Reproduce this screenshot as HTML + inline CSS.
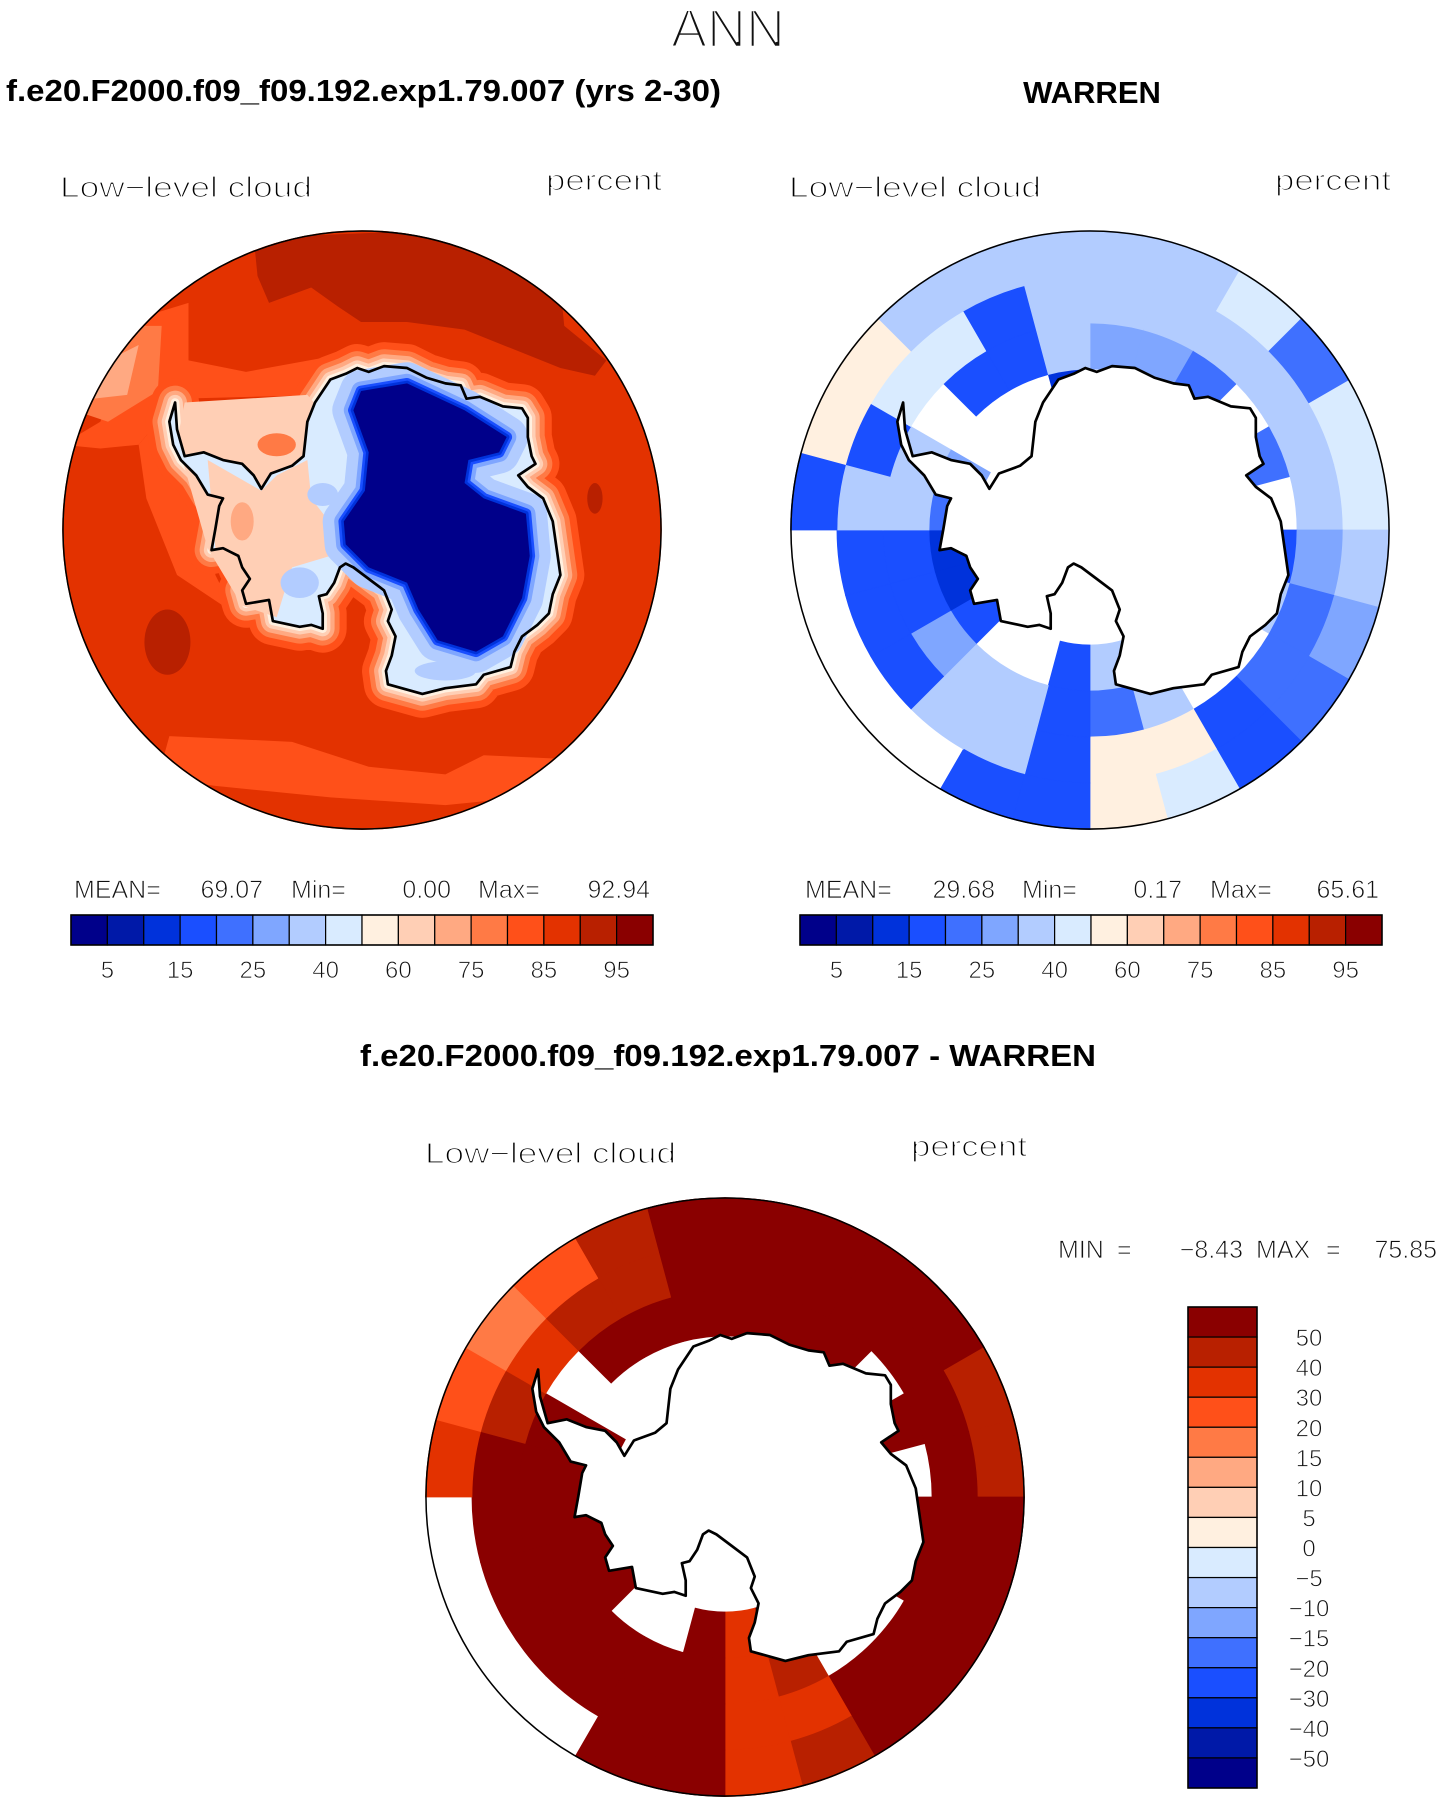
<!DOCTYPE html>
<html><head><meta charset="utf-8"><style>
html,body{margin:0;padding:0;background:#fff;}
svg{display:block;font-family:"Liberation Sans",sans-serif;}
.thin{stroke:#fff;stroke-width:1.3px;paint-order:normal;}
</style></head><body>
<svg id="root" width="1444" height="1799" viewBox="0 0 1444 1799" xmlns="http://www.w3.org/2000/svg">
<defs>
<clipPath id="disk"><circle cx="782.5" cy="782.5" r="782"/></clipPath>
</defs>
<text x="728" y="47" font-size="54" text-anchor="middle" fill="#111" class="thin" style="stroke-width:2.5px">ANN</text>
<text x="6" y="101" font-size="31" font-weight="bold" textLength="715" lengthAdjust="spacingAndGlyphs">f.e20.F2000.f09_f09.192.exp1.79.007 (yrs 2-30)</text>
<text x="1092" y="103" font-size="31" font-weight="bold" text-anchor="middle">WARREN</text>

<text x="60" y="197" font-size="29" class="thin" textLength="252" lengthAdjust="spacingAndGlyphs">Low−level cloud</text>
<text x="546" y="190" font-size="29" class="thin" textLength="116" lengthAdjust="spacingAndGlyphs">percent</text>
<text x="789" y="197" font-size="29" class="thin" textLength="252" lengthAdjust="spacingAndGlyphs">Low−level cloud</text>
<text x="1275" y="190" font-size="29" class="thin" textLength="116" lengthAdjust="spacingAndGlyphs">percent</text>

<g id="map1" transform="translate(62,230) scale(0.38339)">
 <g clip-path="url(#disk)">
  <rect x="0" y="0" width="1565" height="1565" fill="#e33200"/>
  <path d="M500,20 L510,120 L540,190 L650,150 L720,200 L780,240 L900,240 L1050,260 L1200,320 L1300,360 L1390,380 L1420,340 L1310,250 L1300,150 L1000,0 Z" fill="#b82000"/>
  <ellipse cx="275" cy="1075" rx="60" ry="85" fill="#b82000"/>
  <ellipse cx="1390" cy="700" rx="20" ry="40" fill="#b82000"/>
  <path d="M280,1320 L600,1335 L800,1400 L1000,1420 L1100,1370 L1320,1380 L1565,1385 L1565,1470 L1300,1470 L1000,1500 L700,1480 L400,1450 L250,1430 Z" fill="#ff5019"/>
  <path d="M0,560 L100,500 L200,230 L330,190 L330,340 L480,370 L700,330 L700,430 L300,440 L200,560 L100,570 Z" fill="#ff5019"/>
  <path d="M60,480 L150,300 L200,250 L260,250 L250,420 L120,500 Z" fill="#ff7a45"/>
  <path d="M80,440 L140,330 L200,300 L170,430 Z" fill="#ffa982"/>
  <path d="M200,560 L300,440 L380,560 L400,900 L450,1000 L300,900 L220,700 Z" fill="#ff5019"/>
 </g>
</g>
<g id="map2" transform="translate(790,230) scale(0.38339)"><g clip-path="url(#disk)" id="map2cells"></g></g>
<g id="map3" transform="translate(425,1197) scale(0.38339)"><g clip-path="url(#disk)" id="map3cells"></g></g>

<g font-size="25" fill="#111" class="thin" style="stroke-width:0.8px">
<text x="74" y="898">MEAN=</text><text x="263" y="898" text-anchor="end">69.07</text>
<text x="291" y="898">Min=</text><text x="451" y="898" text-anchor="end">0.00</text>
<text x="478" y="898">Max=</text><text x="650" y="898" text-anchor="end">92.94</text>
</g>
<g font-size="25" fill="#111" class="thin" style="stroke-width:0.8px">
<text x="805" y="898">MEAN=</text><text x="995" y="898" text-anchor="end">29.68</text>
<text x="1022" y="898">Min=</text><text x="1182" y="898" text-anchor="end">0.17</text>
<text x="1210" y="898">Max=</text><text x="1379" y="898" text-anchor="end">65.61</text>
</g>
<g id="cb1"></g>
<g id="cb2"></g>

<text x="728" y="1066" font-size="31" font-weight="bold" text-anchor="middle" textLength="736" lengthAdjust="spacingAndGlyphs">f.e20.F2000.f09_f09.192.exp1.79.007 - WARREN</text>
<text x="425" y="1163" font-size="29" class="thin" textLength="251" lengthAdjust="spacingAndGlyphs">Low−level cloud</text>
<text x="911" y="1156" font-size="29" class="thin" textLength="116" lengthAdjust="spacingAndGlyphs">percent</text>
<g font-size="25" fill="#111" class="thin" style="stroke-width:0.8px">
<text x="1058" y="1258">MIN</text><text x="1117" y="1258">=</text>
<text x="1243" y="1258" text-anchor="end">−8.43</text>
<text x="1256" y="1258">MAX</text><text x="1326" y="1258">=</text>
<text x="1437" y="1258" text-anchor="end">75.85</text>
</g>
<g id="cb3"></g>
</svg>
<script>
const NS="http://www.w3.org/2000/svg";
// palette shared by all plots (16 bins)
const palette=["#00008a","#0019a8","#0032db","#1a4fff","#3f70ff","#7fa6ff","#b2ccff","#d9ebff","#fff0e0","#ffcfb5","#ffa982","#ff7a45","#ff5019","#e33200","#b82000","#8a0000"];
const levelsAbs=[5,10,15,20,25,30,40,50,60,70,75,80,85,90,95];
const tickLabelsAbs=["5","15","25","40","60","75","85","95"];
const levelsDiff=[-50,-40,-30,-20,-15,-10,-5,0,5,10,15,20,30,40,50];
const tickLabelsDiff=["50","40","30","20","15","10","5","0","−5","−10","−15","−20","−30","−40","−50"];
// polar grid: ring radii (map units) and 24 sectors of 15 deg, clockwise from top
const ringRadii=[300,420,540,660,782];
const obsValues=[
[null,27,35,35],[null,27,35,35],[null,22,35,45],[null,null,30,20],[null,22,35,45],[null,null,35,45],
[null,17,27,35],[null,30,20,27],[null,null,20,20],[null,null,17,17],[30,35,55,45],[35,22,55,55],
[17,17,17,17],[null,35,35,17],[null,35,35,null],[17,27,17,null],[12,17,17,null],[12,17,17,null],
[22,35,30,17],[27,30,17,55],[null,null,45,55],[null,17,40,35],[null,17,17,35],[12,35,35,35]];
const diffValues=[
[null,60,60,60],[null,60,60,60],[null,60,60,60],[null,null,60,60],[null,60,60,45],[null,null,60,45],
[null,60,60,60],[null,60,60,60],[null,null,60,60],[null,null,60,60],[60,45,35,45],[35,35,35,35],
[60,60,60,60],[null,60,60,60],[null,60,60,null],[60,60,60,null],[60,60,60,null],[60,60,60,null],
[60,60,60,35],[60,60,45,25],[null,null,35,15],[null,60,45,25],[null,60,45,45],[null,60,60,60]];

const coastPts=[[295,450],[300,520],[320,590],[370,580],[420,600],[470,610],[500,640],[520,675],[545,635],[600,615],[630,590],[640,500],[660,450],[700,390],[740,375],[770,360],[800,370],[840,355],[900,360],[950,385],[1000,400],[1040,405],[1055,440],[1090,435],[1150,460],[1200,465],[1215,490],[1215,540],[1225,590],[1235,610],[1190,640],[1215,670],[1255,700],[1280,760],[1290,830],[1300,900],[1280,950],[1270,1000],[1240,1030],[1200,1060],[1180,1100],[1170,1140],[1100,1160],[1080,1185],[1000,1195],[940,1210],[850,1185],[845,1150],[860,1110],[870,1060],[850,1020],[860,990],[840,940],[800,910],[760,880],[740,870],[725,880],[710,920],[690,950],[670,955],[680,1000],[680,1040],[650,1030],[620,1035],[550,1020],[540,965],[480,975],[470,940],[490,910],[470,880],[460,850],[440,840],[420,830],[390,835],[400,780],[410,720],[420,700],[380,690],[350,640],[330,620],[310,600],[290,560],[280,500]];
const navyPts=[[780,420],[900,400],[1050,470],[1160,540],[1140,580],[1060,600],[1050,660],[1100,700],[1210,740],[1220,850],[1200,960],[1150,1060],[1080,1100],[980,1070],[930,990],[900,920],[800,880],[740,820],[735,760],[790,680],[800,580],[760,470]];

function colorFor(v,levels){let i=0;while(i<levels.length&&v>=levels[i])i++;return palette[i];}
function poly(pts){return "M"+pts.map(p=>p[0]+","+p[1]).join(" L")+" Z";}
function mk(tag,attrs,parent){const e=document.createElementNS(NS,tag);for(const k in attrs)e.setAttribute(k,attrs[k]);parent.appendChild(e);return e;}
const C=782.5;
function pt(r,a){const t=a*Math.PI/180;return [C+r*Math.sin(t),C-r*Math.cos(t)];}
function sectorPath(r0,r1,a0,a1){const p1=pt(r1,a0),p2=pt(r1,a1),p3=pt(r0,a1),p4=pt(r0,a0);
 return `M${p1} A${r1},${r1} 0 0 1 ${p2} L${p3} A${r0},${r0} 0 0 0 ${p4} Z`;}

function drawGrid(gid,values,levels,name){
 const g=document.getElementById(gid);
 mk("rect",{x:0,y:0,width:1565,height:1565,fill:"#fff"},g);
 values.forEach((ring,k)=>{ring.forEach((v,j)=>{
  if(v===null)return;
  const c=colorFor(v,levels);
  const el=mk("path",{d:sectorPath(ringRadii[j],ringRadii[j+1],k*15,k*15+15),fill:c,stroke:c,"stroke-width":2},g);
  
  
 });});
 mk("path",{d:poly(coastPts),fill:"#fff"},g);
 const cl=mk("path",{d:poly(coastPts),fill:"none",stroke:"#000","stroke-width":7,"stroke-linejoin":"round"},g);
 
 
 const o=mk("circle",{cx:C,cy:C,r:780,fill:"none",stroke:"#000","stroke-width":4},g.parentNode);
 
 
}
drawGrid("map2cells",obsValues,levelsAbs,"obs");
drawGrid("map3cells",diffValues,levelsDiff,"diff");

// panel 1 smooth field
(function(){
 const g=document.querySelector("#map1 g");
 const cp=poly(coastPts);
 [["#ff5019",125],["#ff7a45",88],["#ffa982",62],["#ffcfb5",40],["#fff0e0",22]].forEach(([c,w])=>{
  mk("path",{d:cp,fill:c,stroke:c,"stroke-width":w,"stroke-linejoin":"round"},g);});
 mk("path",{d:"M320,450 L640,430 L700,500 L720,780 L620,860 L560,1010 L470,980 L380,830 L300,550 Z",fill:"#ffcfb5"},g);
 mk("path",{d:cp,fill:"#d9ebff"},g);
 mk("path",{d:"M380,600 L520,680 L560,640 L640,600 L650,700 L720,790 L700,850 L600,880 L560,1010 L480,980 L400,830 Z",fill:"#ffcfb5"},g);
 mk("ellipse",{cx:560,cy:560,rx:50,ry:30,fill:"#ff7a45"},g);
 mk("ellipse",{cx:470,cy:760,rx:30,ry:50,fill:"#ffa982"},g);
 mk("ellipse",{cx:620,cy:920,rx:50,ry:40,fill:"#b2ccff"},g);
 mk("ellipse",{cx:1000,cy:1150,rx:80,ry:25,fill:"#b2ccff"},g);
 mk("ellipse",{cx:680,cy:690,rx:40,ry:30,fill:"#b2ccff"},g);
 const np=poly(navyPts);
 [["#b2ccff",110],["#7fa6ff",50],["#1a4fff",28],["#0032db",14]].forEach(([c,w])=>{
  mk("path",{d:np,fill:c,stroke:c,"stroke-width":w,"stroke-linejoin":"round"},g);});
 mk("path",{d:np,fill:"#00008a"},g);
 mk("path",{d:cp,fill:"none",stroke:"#000","stroke-width":7,"stroke-linejoin":"round"},g);
 const o=mk("circle",{cx:C,cy:C,r:780,fill:"none",stroke:"#000","stroke-width":4},g.parentNode);
 
 
})();

// horizontal colorbars
function hbar(gid,x0,y0,w,h){
 const g=document.getElementById(gid);const bw=w/palette.length;
 palette.forEach((c,i)=>{
  const r=mk("rect",{x:x0+i*bw,y:y0,width:bw,height:h,fill:c,stroke:"#000","stroke-width":1.2},g);
  
  
 });
 mk("rect",{x:x0,y:y0,width:w,height:h,fill:"none",stroke:"#000","stroke-width":1.5},g);
 tickLabelsAbs.forEach((t,i)=>{
  const tx=mk("text",{x:x0+(2*i+1)*bw,y:y0+63,"font-size":24,"text-anchor":"middle",fill:"#111",class:"thin",style:"stroke-width:0.8px"},g);
  tx.textContent=t;
  
  
 });
}
hbar("cb1",71,915,582,30);
hbar("cb2",800,915,582,30);
// vertical colorbar
(function(){
 const g=document.getElementById("cb3");const x0=1188,y0=1307,w=69,h=481;const bh=h/palette.length;
 palette.slice().reverse().forEach((c,i)=>{
  const r=mk("rect",{x:x0,y:y0+i*bh,width:w,height:bh,fill:c,stroke:"#000","stroke-width":1.2},g);
  
  
 });
 mk("rect",{x:x0,y:y0,width:w,height:h,fill:"none",stroke:"#000","stroke-width":1.5},g);
 tickLabelsDiff.forEach((t,i)=>{
  const tx=mk("text",{x:1309,y:y0+(i+1)*bh+9,"font-size":24,"text-anchor":"middle",fill:"#111",class:"thin",style:"stroke-width:0.8px"},g);
  tx.textContent=t;
  
  
 });
})();
</script>
</body></html>
